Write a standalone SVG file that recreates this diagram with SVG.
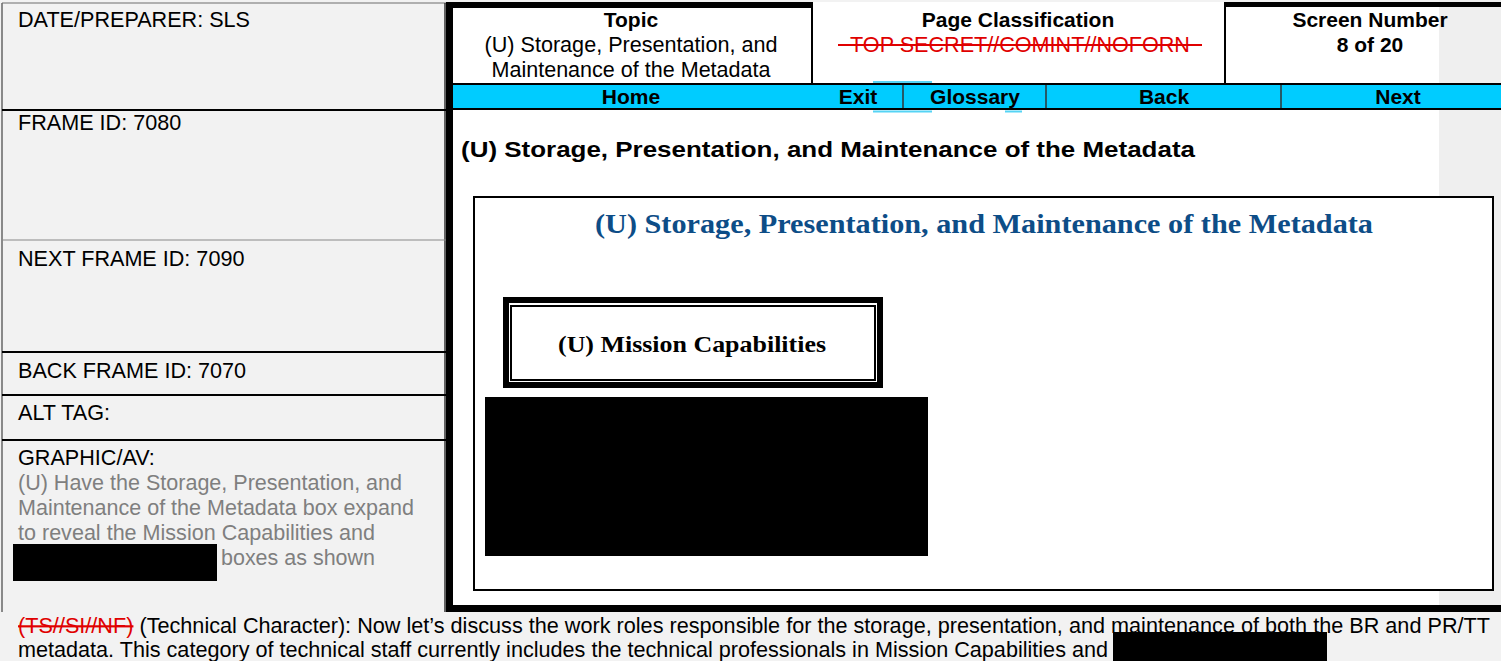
<svg xmlns="http://www.w3.org/2000/svg" width="1501" height="661" viewBox="0 0 1501 661">
<style>
.a{font-family:"Liberation Sans",Arial,sans-serif;font-size:21.6px;fill:#000}
.g{fill:#7f7f7f}
.b{font-weight:bold}
.nav{font-family:"Liberation Sans",Arial,sans-serif;font-size:21px;font-weight:bold;fill:#000;text-anchor:middle}
.t{font-family:"Liberation Serif","Times New Roman",serif;font-weight:bold}
.red{fill:#e00000}
.cy{fill:#00ccff}
.ln{stroke:#000;stroke-width:2;fill:none}
</style>
<rect x="0" y="0" width="1501" height="661" fill="#f2f2f2"/>
<g id="left-panel">
<line x1="2" y1="3" x2="446" y2="3" stroke="#999" stroke-width="1.5"/>
<line x1="2" y1="3" x2="2" y2="612" stroke="#666" stroke-width="1.5"/>
<line x1="445" y1="3" x2="445" y2="612" stroke="#333" stroke-width="1.5"/>
<line x1="2" y1="110" x2="446" y2="110" class="ln"/>
<line x1="2" y1="240" x2="446" y2="240" stroke="#888" stroke-width="1"/>
<line x1="2" y1="352" x2="446" y2="352" class="ln"/>
<line x1="2" y1="395" x2="446" y2="395" class="ln"/>
<line x1="2" y1="440" x2="446" y2="440" class="ln"/>
<text class="a" x="18" y="27">DATE/PREPARER: SLS</text>
<text class="a" x="18" y="130">FRAME ID: 7080</text>
<text class="a" x="18" y="266">NEXT FRAME ID: 7090</text>
<text class="a" x="18" y="378">BACK FRAME ID: 7070</text>
<text class="a" x="18" y="420">ALT TAG:</text>
<text class="a" x="18" y="465">GRAPHIC/AV:</text>
<text class="a g" x="18" y="490" textLength="384" lengthAdjust="spacingAndGlyphs">(U) Have the Storage, Presentation, and</text>
<text class="a g" x="18" y="515" textLength="396" lengthAdjust="spacingAndGlyphs">Maintenance of the Metadata box expand</text>
<text class="a g" x="18" y="540" textLength="357" lengthAdjust="spacingAndGlyphs">to reveal the Mission Capabilities and</text>
<rect x="13" y="544" width="204" height="37" fill="#000"/>
<text class="a g" x="221" y="565" textLength="154" lengthAdjust="spacingAndGlyphs">boxes as shown</text>
</g>
<g id="screen">
<rect x="453" y="2" width="986" height="603" fill="#fff"/>
<rect x="1439" y="0" width="62" height="605" fill="#efefef"/>
<rect x="446" y="2" width="7" height="610" fill="#000"/>
<rect x="446" y="605" width="1055" height="7" fill="#000"/>
</g>
<g id="header">
<rect x="446" y="2" width="366" height="6" fill="#000"/>
<line x1="812" y1="2" x2="812" y2="85" class="ln"/>
<text class="nav" x="631" y="27">Topic</text>
<text class="a" x="631" y="52" text-anchor="middle" textLength="293" lengthAdjust="spacingAndGlyphs">(U) Storage, Presentation, and</text>
<text class="a" x="631" y="77" text-anchor="middle" textLength="279" lengthAdjust="spacingAndGlyphs">Maintenance of the Metadata</text>
<text class="nav" x="1018" y="27">Page Classification</text>
<text class="a red" x="1020" y="52" text-anchor="middle">TOP SECRET//COMINT//NOFORN</text>
<line x1="838" y1="45" x2="1202" y2="45" stroke="#e00000" stroke-width="2"/>
<rect x="1224" y="2" width="277" height="5" fill="#000"/>
<line x1="1225" y1="2" x2="1225" y2="85" class="ln"/>
<rect x="1439" y="7" width="62" height="77" fill="#efefef"/>
<text class="nav" x="1370" y="27">Screen Number</text>
<text class="nav" x="1370" y="52">8 of 20</text>
</g>
<g id="navbar">
<rect x="453" y="84" width="1048" height="25" class="cy"/>
<line x1="453" y1="84" x2="1501" y2="84" class="ln"/>
<line x1="453" y1="109" x2="1501" y2="109" class="ln"/>
<line x1="873" y1="82" x2="932" y2="82" stroke="#55d4f5" stroke-width="2"/>
<line x1="873" y1="111.5" x2="932" y2="111.5" stroke="#55d4f5" stroke-width="2"/>
<line x1="1005" y1="111.5" x2="1022" y2="111.5" stroke="#55d4f5" stroke-width="2"/>
<line x1="903" y1="85" x2="903" y2="108" stroke="#333" stroke-width="1.5"/>
<line x1="1046" y1="85" x2="1046" y2="108" stroke="#333" stroke-width="1.5"/>
<line x1="1281" y1="85" x2="1281" y2="108" stroke="#333" stroke-width="1.5"/>
<text class="nav" x="631" y="104">Home</text>
<text class="nav" x="858" y="104">Exit</text>
<text class="nav" x="975" y="104">Glossary</text>
<text class="nav" x="1164" y="104">Back</text>
<text class="nav" x="1398" y="104">Next</text>
</g>
<g id="content">
<text class="a b" x="461" y="157" font-size="22" textLength="734" lengthAdjust="spacingAndGlyphs">(U) Storage, Presentation, and Maintenance of the Metadata</text>
<rect x="474" y="197" width="1019" height="393" fill="#fff" stroke="#000" stroke-width="2"/>
<text class="t" x="984" y="233" font-size="27" fill="#0d4d87" text-anchor="middle" textLength="778" lengthAdjust="spacingAndGlyphs">(U) Storage, Presentation, and Maintenance of the Metadata</text>
</g>
<g id="mission-capabilities">
<rect x="506" y="300" width="374" height="85" fill="#fff" stroke="#000" stroke-width="6"/>
<rect x="511" y="306" width="364" height="74" fill="none" stroke="#000" stroke-width="2"/>
<text class="t" x="692" y="352" font-size="23" text-anchor="middle" textLength="268" lengthAdjust="spacingAndGlyphs">(U) Mission Capabilities</text>
</g>
<g id="redacted-box">
<rect x="485" y="397" width="443" height="159" fill="#000"/>
</g>
<g id="narration">
<text class="a" x="18" y="633" textLength="1472" lengthAdjust="spacingAndGlyphs"><tspan class="red" text-decoration="line-through">(TS//SI//NF)</tspan> (Technical Character): Now let’s discuss the work roles responsible for the storage, presentation, and maintenance of both the BR and PR/TT</text>
<text class="a" x="18" y="657" textLength="1090" lengthAdjust="spacingAndGlyphs">metadata. This category of technical staff currently includes the technical professionals in Mission Capabilities and</text>
<rect x="1113" y="632" width="214" height="29" fill="#000"/>
</g>
<g id="connectors"></g>
</svg>
